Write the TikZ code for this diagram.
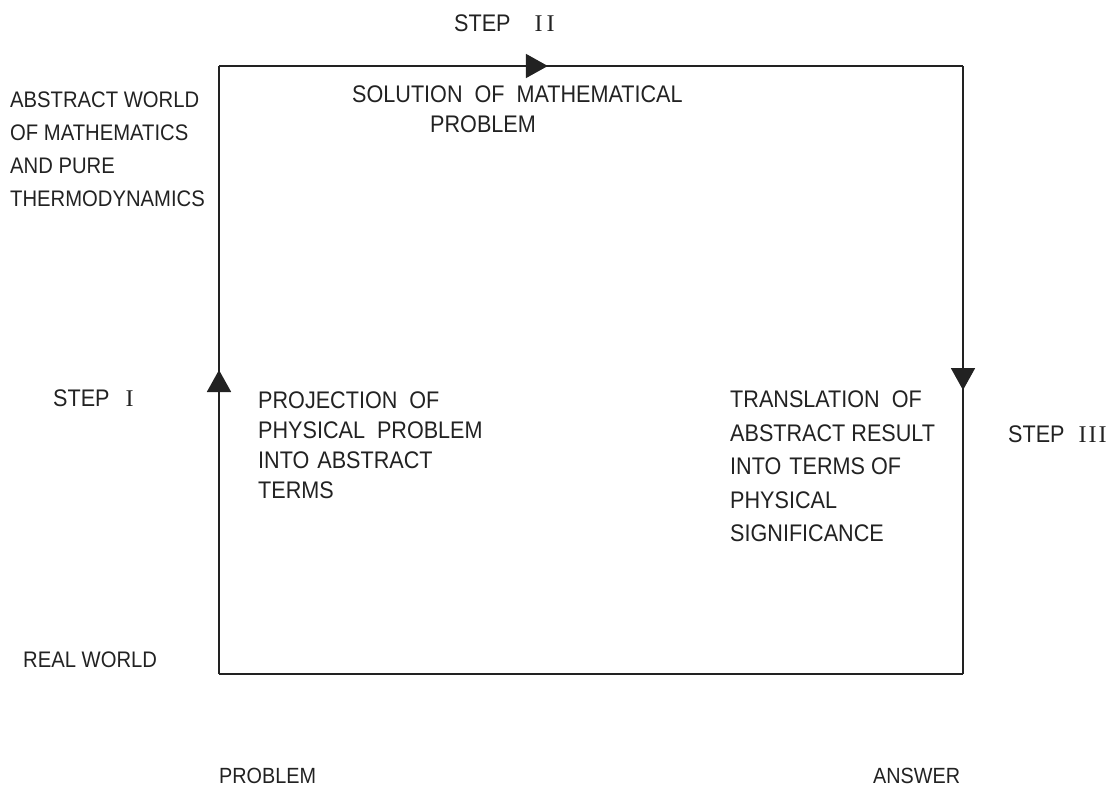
\documentclass[tikz,border=0pt]{standalone}
\usepackage{fontspec}
\setmainfont{Liberation Sans}[FakeStretch=0.9]
\newfontfamily\numfont{Liberation Serif}
\usetikzlibrary{arrows.meta,decorations.markings}
\definecolor{ink}{HTML}{222222}
\tikzset{
  lbl/.style={inner sep=0pt, text=ink, align=left, anchor=north west},
  one/.style={inner sep=0pt, text=ink, anchor=base west},
  frame/.style={draw=ink, line width=1.8pt},
  midarrow/.style={postaction={decorate, decoration={markings,
      mark=at position #1 with {\arrow{Triangle[length=22pt,width=24pt]}}}}}
}
\begin{document}
\begin{tikzpicture}[x=1pt,y=-1pt]
\useasboundingbox (0,0) rectangle (1116,791);
% corners of the loop
\coordinate (bl) at (219,674);
\coordinate (tl) at (219,66);
\coordinate (tr) at (963,66);
\coordinate (br) at (963,674);
% frame with direction arrows
\draw[frame, midarrow=0.5] (bl) -- (tl);
\draw[frame, midarrow=0.442] (tl) -- (tr);
\draw[frame, midarrow=0.533] (tr) -- (br);
\draw[frame] (br) -- (bl);
% labels
\node[one, font={\fontsize{24}{28}\selectfont}] (step2) at (454,32) {STEP\hspace{24pt}{\numfont I\hspace{4pt}I}};
\node[one, font={\fontsize{24}{28}\selectfont}] (step1) at (53,406) {STEP\hspace{16pt}{\numfont I}};
\node[one, font={\fontsize{24}{28}\selectfont}] (step3) at (1008,442) {STEP\hspace{14pt}{\numfont I\hspace{2pt}I\hspace{2pt}I}};
\node[lbl, font={\fontsize{22.5}{33}\selectfont}] (abstract) at (10,91.5)
  {ABSTRACT WORLD\\OF MATHEMATICS\\AND PURE\\THERMODYNAMICS};
\node[lbl, font={\fontsize{24}{30}\selectfont}] (solution) at (352,86)
  {SOLUTION\hspace{12pt}OF\hspace{12pt}MATHEMATICAL\\\hspace*{78pt}PROBLEM};
\node[lbl, font={\fontsize{24}{30}\selectfont}] (projection) at (258,392)
  {PROJECTION\hspace{12pt}OF\\PHYSICAL\hspace{12pt}PROBLEM\\INTO\hspace{8pt}ABSTRACT\\TERMS};
\node[lbl, font={\fontsize{24}{33.5}\selectfont}] (translation) at (730,391)
  {TRANSLATION\hspace{12pt}OF\\ABSTRACT RESULT\\INTO\hspace{8pt}TERMS OF\\PHYSICAL\\SIGNIFICANCE};
\node[one, font={\fontsize{22.5}{28}\selectfont}] (real) at (23,667) {REAL WORLD};
\node[one, font={\fontsize{22}{28}\selectfont}] (problem) at (219,783) {PROBLEM};
\node[one, font={\fontsize{22}{28}\selectfont}] (answer) at (873,783) {ANSWER};
\end{tikzpicture}
\end{document}
